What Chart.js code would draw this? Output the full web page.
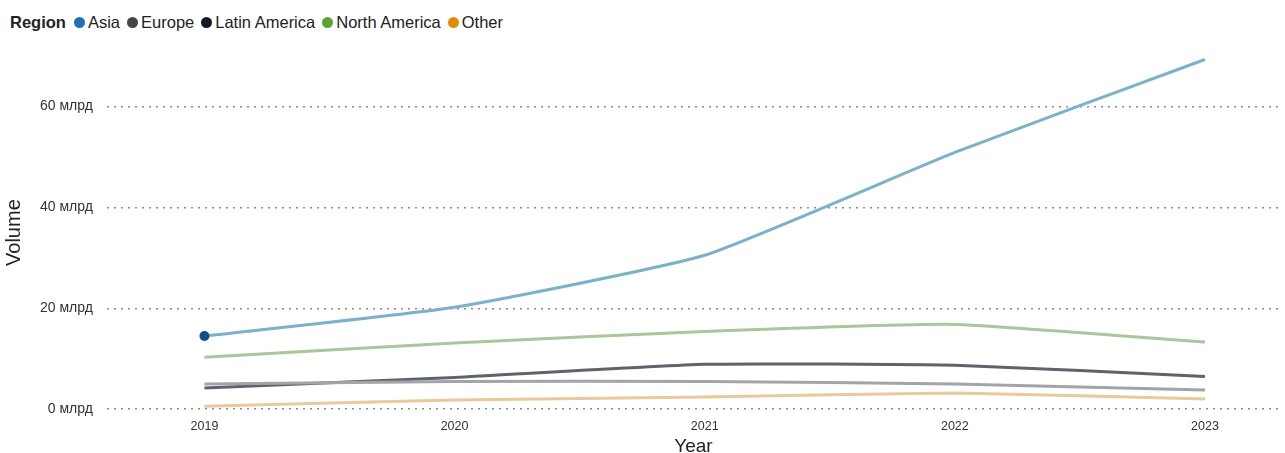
<!DOCTYPE html>
<html>
<head>
<meta charset="utf-8">
<script src="https://cdn.jsdelivr.net/npm/chart.js@4"></script>
<style>
  html, body { margin: 0; padding: 0; background: #fff; overflow: hidden; }
  #legend {
    position: absolute; left: 10px; top: 13px; display: flex; align-items: center;
    font-family: "Liberation Sans", Arial, sans-serif; font-size: 16.5px; color: #222;
  }
  #legend b { margin-right: 8px; }
  #legend .item { display: flex; align-items: center; margin-right: 7px; }
  #legend .dot { width: 11px; height: 11px; border-radius: 50%; margin-right: 3px; }
  #wrap { position: absolute; left: 0; top: 0; width: 1285px; height: 458px; }
</style>
</head>
<body>
<div id="legend"><b>Region</b></div>
<div id="wrap"><canvas id="volumeChart"></canvas></div>
<script>
const years = [2019, 2020, 2021, 2022, 2023];
const regions = ['Asia', 'Europe', 'Latin America', 'North America', 'Other'];

// volume in billions
const asia = [14.5, 20.2, 30.5, 50.9, 69.3];
const europe = [5.0, 5.5, 5.5, 5.0, 3.8];
const latinAmerica = [4.2, 6.3, 8.9, 8.7, 6.5];
const northAmerica = [10.3, 13.1, 15.4, 16.8, 13.3];
const other = [0.6, 1.8, 2.4, 3.2, 2.0];

const yTicks = [0, 20, 40, 60];

const lineColors = ['#7ab2c9', '#a2a4a8', '#5d646e', '#a9c79a', '#e9c999'];
const legendColors = ['#1f70b8', '#454545', '#111826', '#5ea22f', '#e08c0a'];

// html legend
const legendEl = document.getElementById('legend');
regions.forEach(function (name, i) {
    const item = document.createElement('span');
    item.className = 'item';
    item.innerHTML = '<span class="dot" style="background:' + legendColors[i] + '"></span>' + name;
    legendEl.appendChild(item);
});

function toPoints(values) {
    return values.map(function (v, i) { return { x: years[i], y: v }; });
}

const series = [asia, europe, latinAmerica, northAmerica, other];
// draw order: smaller series first, Asia on top
const order = [4, 1, 2, 3, 0];

const datasets = order.map(function (idx) {
    return {
        label: regions[idx],
        data: toPoints(series[idx]),
        borderColor: lineColors[idx],
        backgroundColor: idx === 0 ? '#0e4f8a' : lineColors[idx],
        borderWidth: 3,
        tension: 0.15,
        pointRadius: idx === 0 ? [5, 0, 0, 0, 0] : 0,
        pointBorderWidth: 0,
        fill: false
    };
});

const ctx = document.getElementById('volumeChart').getContext('2d');
new Chart(ctx, {
    type: 'line',
    data: { datasets: datasets },
    options: {
        responsive: true,
        maintainAspectRatio: false,
        animation: false,
        layout: { padding: { top: 56, right: 5, left: 2, bottom: 0 } },
        plugins: {
            legend: { display: false },
            tooltip: { enabled: false }
        },
        scales: {
            x: {
                type: 'linear',
                min: 2018.61,
                max: 2023.3,
                afterBuildTicks: function (scale) {
                    scale.ticks = years.map(function (v) { return { value: v }; });
                },
                grid: { display: false, drawTicks: false },
                border: { display: false },
                ticks: {
                    padding: 10,
                    color: '#333',
                    font: { family: 'Liberation Sans', size: 12.5 },
                    callback: function (v) { return String(v); }
                },
                title: {
                    display: true,
                    text: 'Year',
                    color: '#222',
                    font: { family: 'Liberation Sans', size: 19 },
                    padding: { top: -9, bottom: 0 }
                }
            },
            y: {
                min: 0,
                max: 70,
                afterBuildTicks: function (scale) {
                    scale.ticks = yTicks.map(function (v) { return { value: v }; });
                },
                grid: { color: '#8a8a8a', lineWidth: 1.5, drawTicks: false },
                border: { display: false, dash: [2, 5] },
                ticks: {
                    padding: 14,
                    color: '#333',
                    font: { family: 'Liberation Sans', size: 14 },
                    callback: function (v) { return v + ' млрд'; }
                },
                title: {
                    display: true,
                    text: 'Volume',
                    color: '#222',
                    font: { family: 'Liberation Sans', size: 20 },
                    padding: { top: 0, bottom: 0 }
                }
            }
        }
    }
});
</script>
</body>
</html>
